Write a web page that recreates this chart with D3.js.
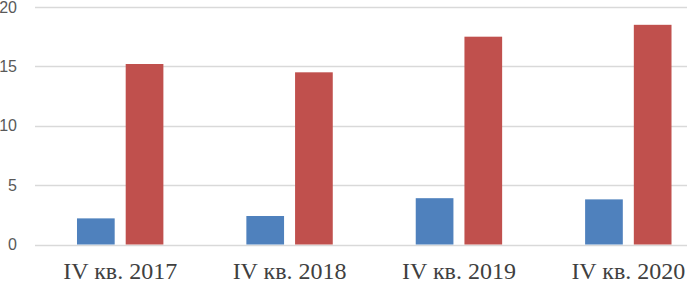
<!DOCTYPE html>
<html><head><meta charset="utf-8">
<script src="https://cdn.jsdelivr.net/npm/d3@7"></script>
<style>body{margin:0;background:#fff;}svg{display:block;}</style>
</head><body>
<svg id="c" width="687" height="284"></svg>
<script>
const categories = ["IV кв. 2017", "IV кв. 2018", "IV кв. 2019", "IV кв. 2020"];
const series1 = [2.2, 2.4, 3.9, 3.8];
const series2 = [15.2, 14.5, 17.5, 18.5];
const yTicks = [0, 5, 10, 15, 20];
const seriesNames = ["s1", "s2"];
const colors = ["#4f81bd", "#c0504d"];

const svg = d3.select("#c");
const y = d3.scaleLinear().domain([0, 20]).range([244.5, 7]);
const x0 = d3.scaleBand().domain(categories).range([35.5, 713]).paddingInner(0).paddingOuter(0);
const x1 = d3.scaleBand().domain(seriesNames).range([0, 86.4]).paddingInner(0.226).paddingOuter(0);
const groupOffset = (x0.bandwidth() - 86.4) / 2;

// gridlines
svg.append("g").selectAll("line").data(yTicks).join("line")
  .attr("x1", 35).attr("x2", 687)
  .attr("y1", d => Math.round(y(d)) + 0.5).attr("y2", d => Math.round(y(d)) + 0.5)
  .attr("stroke", "#d9d9d9").attr("stroke-width", 1.3);

// y axis labels
const yAxis = d3.axisLeft(y).tickValues(yTicks).tickSize(0).tickPadding(0);
const ya = svg.append("g").attr("transform", "translate(17,0)").call(yAxis);
ya.select(".domain").remove();
ya.selectAll("text").attr("font-family", "'Liberation Sans', Arial, sans-serif")
  .attr("font-size", 16).attr("fill", "#595959");

// bars
const data = categories.map((c, i) => ({c, vals: [series1[i], series2[i]]}));
const g = svg.append("g");
data.forEach(d => {
  d.vals.forEach((v, j) => {
    g.append("rect")
      .attr("x", x0(d.c) + groupOffset + x1(seriesNames[j]))
      .attr("y", y(v))
      .attr("width", x1.bandwidth())
      .attr("height", y(0) - y(v))
      .attr("fill", colors[j]);
  });
});

// x axis labels
const xAxis = d3.axisBottom(x0).tickSize(0).tickPadding(0);
const xa = svg.append("g").attr("transform", "translate(0,262)").call(xAxis);
xa.select(".domain").remove();
xa.selectAll("text").attr("font-family", "'Liberation Serif', 'Times New Roman', serif")
  .attr("font-size", 24).attr("fill", "#404040").attr("dy", "0.72em");
</script>
</body></html>
